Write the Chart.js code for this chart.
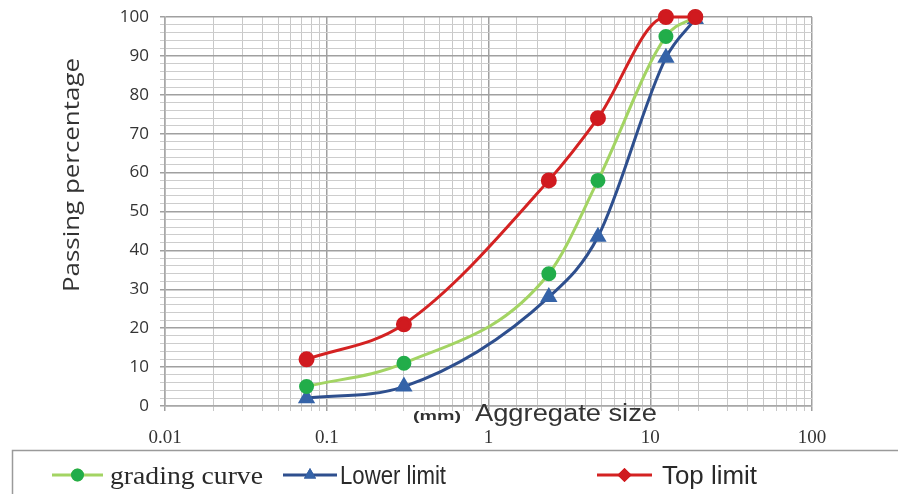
<!DOCTYPE html>
<html>
<head>
<meta charset="utf-8">
<script src="https://cdn.jsdelivr.net/npm/chart.js@4.4.0/dist/chart.umd.min.js"></script>
<style>
  html, body { margin: 0; padding: 0; background: #fff; }
  #wrap { position: relative; width: 898px; height: 494px; }
</style>
</head>
<body>
<div id="wrap"><canvas id="gradingChart" width="898" height="494"></canvas></div>
<script>
// Sieve sizes (mm) and passing percentages
const sieveSizes = [0.075, 0.3, 2.36, 4.75, 12.5, 19];
const gradingCurve = [5, 11, 34, 58, 95, 100];
const lowerLimit = [2, 5, 28, 43.5, 89.5, 99.5];
const topLimit = [12, 21, 58, 74, 100, 100];

const seriesNames = ['grading curve', 'Lower limit', 'Top limit'];
const xTickLabels = ['0.01', '0.1', '1', '10', '100'];
const yTitle = 'Passing percentage';

const SANS = '"Liberation Sans", Arial, sans-serif';
const CAL = '"Open Sans", "Liberation Sans", sans-serif';
const SERIF = '"Liberation Serif", "DejaVu Serif", serif';

function toPoints(values) {
    return sieveSizes.map((x, i) => ({ x: x, y: values[i] }));
}

function isDecade(v) {
    const l = Math.log10(v);
    return Math.abs(l - Math.round(l)) < 1e-9;
}

// draw text squeezed/stretched to a given width
function fitText(c, text, x, y, width) {
    const w = c.measureText(text).width;
    c.save();
    c.translate(x, y);
    c.scale(width / w, 1);
    c.fillText(text, 0, 0);
    c.restore();
}

// axis titles: x title sits between plot and tick labels, y title a bit above centre
const axisTitlePlugin = {
    id: 'axisTitle',
    afterDraw(chart) {
        const c = chart.ctx;
        c.save();
        c.fillStyle = '#333';
        c.textBaseline = 'alphabetic';
        c.font = 'bold 12px ' + SANS;
        fitText(c, '(mm)', 413, 420, 48);
        c.font = '23px ' + SANS;
        fitText(c, 'Aggregate size', 475, 421, 182);
        c.translate(79, 292);
        c.rotate(-Math.PI / 2);
        c.font = '22px ' + CAL;
        fitText(c, yTitle, 0, 0, 234);
        c.restore();
    }
};

// bottom legend box with line + marker samples
const legendBoxPlugin = {
    id: 'legendBox',
    afterDraw(chart) {
        const c = chart.ctx;
        const items = [
            { ds: 0, x1: 52, x2: 103, tx: 110, tw: 153, font: '26px ' + SERIF },
            { ds: 1, x1: 283, x2: 337, tx: 340, tw: 106, font: '25px ' + SANS },
            { ds: 2, x1: 597, x2: 652, tx: 662, tw: 95, font: '25px ' + SANS }
        ];
        c.save();
        c.strokeStyle = '#9a9a9a';
        c.lineWidth = 1.5;
        c.strokeRect(12.5, 450.5, 900, 48);
        const y = 475;
        items.forEach(it => {
            const ds = chart.data.datasets[it.ds];
            c.strokeStyle = ds.borderColor;
            c.lineWidth = 3;
            c.beginPath();
            c.moveTo(it.x1, y);
            c.lineTo(it.x2, y);
            c.stroke();
            Chart.helpers.drawPoint(c, {
                pointStyle: ds.legendStyle,
                radius: ds.legendRadius,
                borderWidth: 1,
                rotation: 0
            }, (it.x1 + it.x2) / 2, y);
            c.fillStyle = ds.pointBackgroundColor;
            c.strokeStyle = ds.pointBorderColor;
            c.fill();
            c.stroke();
            c.fillStyle = '#2a2a2a';
            c.font = it.font;
            c.textBaseline = 'alphabetic';
            fitText(c, ds.label, it.tx, y + 9, it.tw);
        });
        c.restore();
    }
};

new Chart(document.getElementById('gradingChart'), {
    type: 'line',
    data: {
        datasets: [
            {
                label: seriesNames[0],
                data: toPoints(gradingCurve),
                borderColor: '#a3d463',
                borderWidth: 3,
                pointStyle: 'circle',
                pointRadius: 6,
                legendStyle: 'circle',
                legendRadius: 5,
                pointBackgroundColor: '#22ad4a',
                pointBorderColor: '#22ad4a',
                cubicInterpolationMode: 'monotone',
                order: 2
            },
            {
                label: seriesNames[1],
                data: toPoints(lowerLimit),
                borderColor: '#2e4f8e',
                borderWidth: 3,
                pointStyle: 'triangle',
                pointRadius: 7,
                legendStyle: 'triangle',
                legendRadius: 4,
                pointBackgroundColor: '#3563a8',
                pointBorderColor: '#3563a8',
                cubicInterpolationMode: 'monotone',
                order: 3
            },
            {
                label: seriesNames[2],
                data: toPoints(topLimit),
                borderColor: '#d42222',
                borderWidth: 3,
                pointStyle: 'circle',
                pointRadius: 6.5,
                legendStyle: 'rectRot',
                legendRadius: 5,
                pointBackgroundColor: '#d01a1f',
                pointBorderColor: '#d01a1f',
                cubicInterpolationMode: 'monotone',
                order: 1
            }
        ]
    },
    options: {
        responsive: false,
        animation: false,
        clip: false,
        layout: { padding: { left: 0, right: 86, top: 17, bottom: 42 } },
        plugins: {
            legend: { display: false },
            tooltip: { enabled: false }
        },
        scales: {
            x: {
                type: 'logarithmic',
                min: 0.01,
                max: 100,
                afterFit(scale) { scale.height = 46; },
                border: { color: '#a8a8a8', width: 1.5 },
                grid: {
                    color: ctx => isDecade(ctx.tick.value) ? '#a0a0a0' : '#c8c8c8',
                    lineWidth: ctx => isDecade(ctx.tick.value) ? 1.5 : 1,
                    tickLength: 5
                },
                ticks: {
                    autoSkip: false,
                    maxRotation: 0,
                    padding: 16,
                    color: '#333',
                    font: { family: SERIF, size: 19 },
                    callback: v => isDecade(v) ? xTickLabels[Math.round(Math.log10(v)) + 2] : ''
                }
            },
            y: {
                min: 0,
                max: 100,
                afterFit(scale) {
                    scale.width = 165;
                    scale.paddingTop = 0;
                    scale.paddingBottom = 0;
                },
                border: { color: '#a8a8a8', width: 1.5 },
                grid: {
                    color: ctx => ctx.tick.value % 10 === 0 ? '#a0a0a0' : '#cdcdcd',
                    lineWidth: ctx => ctx.tick.value % 10 === 0 ? 1.5 : 1,
                    tickLength: 5
                },
                ticks: {
                    stepSize: 2,
                    autoSkip: false,
                    padding: 11,
                    color: '#333',
                    font: { family: CAL, size: 17 },
                    callback: v => v % 10 === 0 ? String(v) : ''
                }
            }
        }
    },
    plugins: [axisTitlePlugin, legendBoxPlugin]
});
</script>
</body>
</html>
